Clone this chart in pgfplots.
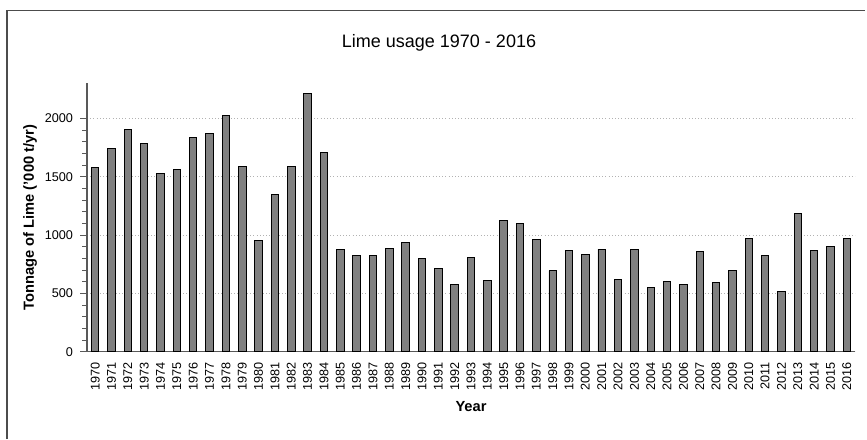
\documentclass[border=0pt]{standalone}
\usepackage{pgfplots}
\pgfplotsset{compat=1.18}
\usepackage{pgfplotstable}
\usepackage{fontspec}
\setmainfont{Liberation Sans}
\pgfplotstableread{
x year val
0 1970 1577
1 1971 1740
2 1972 1906
3 1973 1786
4 1974 1529
5 1975 1566
6 1976 1840
7 1977 1874
8 1978 2023
9 1979 1586
10 1980 957
11 1981 1346
12 1982 1586
13 1983 2214
14 1984 1709
15 1985 880
16 1986 829
17 1987 826
18 1988 883
19 1989 940
20 1990 803
21 1991 717
22 1992 577
23 1993 806
24 1994 611
25 1995 1126
26 1996 1103
27 1997 960
28 1998 694
29 1999 871
30 2000 837
31 2001 880
32 2002 620
33 2003 880
34 2004 551
35 2005 606
36 2006 577
37 2007 857
38 2008 597
39 2009 697
40 2010 971
41 2011 826
42 2012 520
43 2013 1189
44 2014 871
45 2015 903
46 2016 969
}\limedata
\begin{document}
\begin{tikzpicture}
\useasboundingbox (0,0) rectangle (650.25pt,-329.25pt);
\draw[line width=1.1pt, black!70] (5.25pt,-329.25pt) -- (5.25pt,-7.8pt) -- (649pt,-7.8pt);
\node[anchor=base, font=\fontsize{13.5}{14}\selectfont] at (329.25pt,-35.25pt) {Lime usage 1970 - 2016};
\begin{axis}[
  at={(65.25pt,-263.8pt)}, anchor=south west,
  scale only axis, width=576pt, height=201.25pt,
  xmin=-0.5, xmax=46.5, ymin=0, ymax=2300,
  axis x line*=bottom, axis y line*=left,
  axis line style={black!65, line width=0.8pt},
  tick align=outside,
  xtick=data,
  xticklabels from table={\limedata}{year},
  xtick style={draw=none},
  minor xtick={-0.5,0.5,...,46.5},
  minor x tick style={black!65, line width=0.6pt},
  ytick={0,500,1000,1500,2000},
  minor y tick num=4,
  y tick style={black!65, line width=0.6pt},
  major tick length=5pt,
  minor tick length=3.4pt,
  ymajorgrids,
  major grid style={dotted, black!30, line width=0.6pt},
  /pgf/number format/assume math mode=true,
  /pgf/number format/1000 sep={},
  xticklabel style={rotate=90, anchor=east, font=\fontsize{9.5}{9.5}\selectfont, inner sep=1pt, xshift=-2pt},
  yticklabel style={font=\fontsize{9.5}{9.5}\selectfont, xshift=-2pt},
  xlabel={Year},
  ylabel={Tonnage of Lime ('000 t/yr)},
  xlabel style={font=\bfseries\fontsize{11}{11}\selectfont, at={(axis description cs:0.5,0)}, anchor=base, yshift=-45pt},
  ylabel style={font=\bfseries\fontsize{11}{11}\selectfont, at={(axis description cs:-0.0742,0.5)}, anchor=center},
]
\addplot[ybar, bar width=5.6pt, fill=black!50, draw=black, line width=0.7pt] table[x=x, y=val] {\limedata};
\end{axis}
\end{tikzpicture}
\end{document}
